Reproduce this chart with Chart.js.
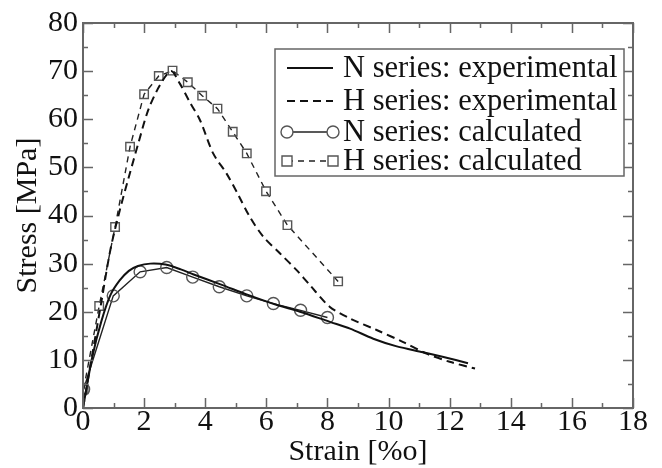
<!DOCTYPE html>
<html>
<head>
<meta charset="utf-8">
<script src="https://cdn.jsdelivr.net/npm/chart.js@4/dist/chart.umd.min.js"></script>
<style>
  html, body { margin: 0; padding: 0; background: #fff; }
  #wrap { width: 662px; height: 468px; }
</style>
</head>
<body>
<div id="wrap"><canvas id="myChart" width="662" height="468"></canvas></div>
<script>
// data
const nExpStrain = [0, 0.3, 0.6, 0.9, 1.2, 1.5, 1.8, 2.2, 2.7, 3.2, 3.6, 4.5, 5.4, 6.3, 7.1, 8.08, 8.74, 9.5, 10.27, 11.13, 11.8, 12.6];
const nExpStress = [0, 10.5, 18, 23.5, 26.5, 28.5, 29.5, 30, 29.8, 28.8, 27.8, 25.7, 23.5, 21.5, 20.0, 17.9, 16.5, 14.4, 12.8, 11.6, 10.6, 9.3];

const hExpStrain = [0, 0.3, 0.6, 0.9, 1.2, 1.5, 1.81, 2.14, 2.52, 2.88, 3.17, 3.5, 3.83, 4.26, 4.7, 5.08, 5.46, 5.9, 6.45, 7.0, 7.43, 8.08, 8.74, 9.61, 10.48, 11.24, 12.0, 12.83];
const hExpStress = [0, 11, 22, 33, 41, 48, 55, 62, 67.1, 70, 67.4, 63.5, 59.8, 52.9, 48.7, 44.3, 39.7, 35.6, 32.1, 28.6, 25.5, 21.0, 18.6, 16.2, 13.7, 11.3, 9.6, 8.2];

const nCalcStrain = [0.02, 0.99, 1.87, 2.74, 3.59, 4.46, 5.36, 6.23, 7.12, 8.0];
const nCalcStress = [3.9, 23.3, 28.3, 29.2, 27.2, 25.2, 23.3, 21.7, 20.3, 18.8];

const hCalcStrain = [0.02, 0.53, 1.05, 1.54, 2.0, 2.48, 2.93, 3.43, 3.9, 4.4, 4.9, 5.36, 5.99, 6.69, 8.35];
const hCalcStress = [3.9, 21.2, 37.6, 54.3, 65.2, 69.0, 70.1, 67.7, 64.9, 62.2, 57.4, 52.9, 45.05, 38.0, 26.3];

const seriesNames = ["N series: experimental", "H series: experimental", "N series: calculated", "H series: calculated"];

const xTicks = [0, 2, 4, 6, 8, 10, 12, 14, 16, 18];
const yTicks = [0, 10, 20, 30, 40, 50, 60, 70, 80];

function pts(xs, ys) {
    return xs.map((x, i) => ({x: x, y: ys[i]}));
}

const serif = "'Liberation Serif', 'Times New Roman', serif";
const frameColor = "#666";

// box + inward ticks on all four sides
const frame = {
    id: 'frame',
    afterDatasetsDraw(chart) {
        const {ctx, chartArea: a, scales: {x, y}} = chart;
        ctx.save();
        ctx.strokeStyle = frameColor;
        ctx.lineWidth = 1.5;
        for (let v = 0; v <= 18; v++) {
            const px = Math.round(x.getPixelForValue(v)) + 0.5;
            const len = v % 2 === 0 ? 10 : 5;
            ctx.beginPath();
            ctx.moveTo(px, a.bottom); ctx.lineTo(px, a.bottom - len);
            ctx.moveTo(px, a.top); ctx.lineTo(px, a.top + len);
            ctx.stroke();
        }
        for (let v = 0; v <= 80; v += 5) {
            const py = Math.round(y.getPixelForValue(v)) + 0.5;
            const len = v % 10 === 0 ? 10 : 5;
            ctx.beginPath();
            ctx.moveTo(a.left, py); ctx.lineTo(a.left + len, py);
            ctx.moveTo(a.right, py); ctx.lineTo(a.right - len, py);
            ctx.stroke();
        }
        ctx.lineWidth = 2;
        ctx.strokeRect(a.left, a.top, a.right - a.left, a.bottom - a.top);
        ctx.restore();
    }
};

// legend box inside the plot, top right
const boxLegend = {
    id: 'boxLegend',
    afterDraw(chart) {
        const {ctx, chartArea: a} = chart;
        const right = a.right - 9, top = a.top + 26;
        const left = right - 349, bottom = top + 127;
        ctx.save();
        ctx.fillStyle = "#fff";
        ctx.fillRect(left, top, right - left, bottom - top);
        ctx.strokeStyle = frameColor;
        ctx.lineWidth = 1.5;
        ctx.strokeRect(left, top, right - left, bottom - top);
        const rows = [19, 52, 83, 112];
        chart.data.datasets.forEach((ds, i) => {
            const yy = top + rows[i];
            const x0 = left + 12, x1 = left + 58;
            ctx.strokeStyle = ds.borderColor;
            ctx.lineWidth = ds.borderWidth;
            ctx.setLineDash(ds.borderDash || []);
            ctx.beginPath();
            ctx.moveTo(x0, yy); ctx.lineTo(x1, yy);
            ctx.stroke();
            ctx.setLineDash([]);
            if (ds.pointRadius > 0) {
                ctx.strokeStyle = ds.pointBorderColor;
                ctx.lineWidth = ds.pointBorderWidth;
                [x0, x1].forEach(px => {
                    ctx.beginPath();
                    ctx.fillStyle = "#fff";
                    if (ds.pointStyle === 'rect') {
                        ctx.rect(px - 5, yy - 5, 10, 10);
                    } else {
                        ctx.arc(px, yy, 6, 0, Math.PI * 2);
                    }
                    ctx.fill();
                    ctx.stroke();
                });
            }
            ctx.fillStyle = "#111";
            ctx.font = "30.5px " + serif;
            ctx.textBaseline = "middle";
            ctx.fillText(ds.label, left + 68, yy + 1);
        });
        ctx.restore();
    }
};

const ctx = document.getElementById('myChart').getContext('2d');
const myChart = new Chart(ctx, {
    type: 'scatter',
    data: {
        datasets: [
            {
                label: seriesNames[0],
                data: pts(nExpStrain, nExpStress),
                showLine: true,
                borderColor: "#111",
                borderWidth: 2,
                pointRadius: 0,
                tension: 0.3
            },
            {
                label: seriesNames[1],
                data: pts(hExpStrain, hExpStress),
                showLine: true,
                borderColor: "#111",
                borderWidth: 2,
                borderDash: [8, 5],
                pointRadius: 0,
                tension: 0.3
            },
            {
                label: seriesNames[2],
                data: pts(nCalcStrain, nCalcStress),
                showLine: true,
                borderColor: "#222",
                borderWidth: 1.4,
                pointStyle: 'circle',
                pointRadius: 6,
                pointBorderColor: "#555",
                pointBorderWidth: 1.4,
                pointBackgroundColor: "rgba(0,0,0,0)"
            },
            {
                label: seriesNames[3],
                data: pts(hCalcStrain, hCalcStress),
                showLine: true,
                borderColor: "#222",
                borderWidth: 1.4,
                borderDash: [6, 5],
                pointStyle: 'rect',
                pointRadius: 6,
                pointBorderColor: "#555",
                pointBorderWidth: 1.4,
                pointBackgroundColor: "rgba(0,0,0,0)"
            }
        ]
    },
    options: {
        responsive: false,
        animation: false,
        layout: {
            padding: {top: 23, right: 29, left: 0, bottom: 0}
        },
        plugins: {
            legend: { display: false },
            tooltip: { enabled: false }
        },
        scales: {
            x: {
                type: 'linear',
                min: 0,
                max: 18,
                afterFit: scale => { scale.height = 60; },
                afterBuildTicks: scale => { scale.ticks = xTicks.map(v => ({value: v})); },
                ticks: {
                    color: "#111",
                    padding: -4,
                    maxRotation: 0,
                    font: { family: serif, size: 30 }
                },
                grid: { display: false, drawTicks: false, tickLength: 0 },
                border: { display: false },
                title: {
                    display: true,
                    text: "Strain [%o]",
                    color: "#111",
                    font: { family: serif, size: 30, lineHeight: 1 },
                    padding: { top: 0, bottom: 1 }
                }
            },
            y: {
                type: 'linear',
                min: 0,
                max: 80,
                afterFit: scale => { scale.width = 83; },
                afterBuildTicks: scale => { scale.ticks = yTicks.map(v => ({value: v})); },
                ticks: {
                    color: "#111",
                    padding: 5,
                    font: { family: serif, size: 30 }
                },
                grid: { display: false, drawTicks: false, tickLength: 0 },
                border: { display: false },
                title: {
                    display: true,
                    text: "Stress [MPa]",
                    color: "#111",
                    font: { family: serif, size: 30, lineHeight: 1 },
                    padding: { top: 13, bottom: 0 }
                }
            }
        }
    },
    plugins: [frame, boxLegend]
});
</script>
</body>
</html>
